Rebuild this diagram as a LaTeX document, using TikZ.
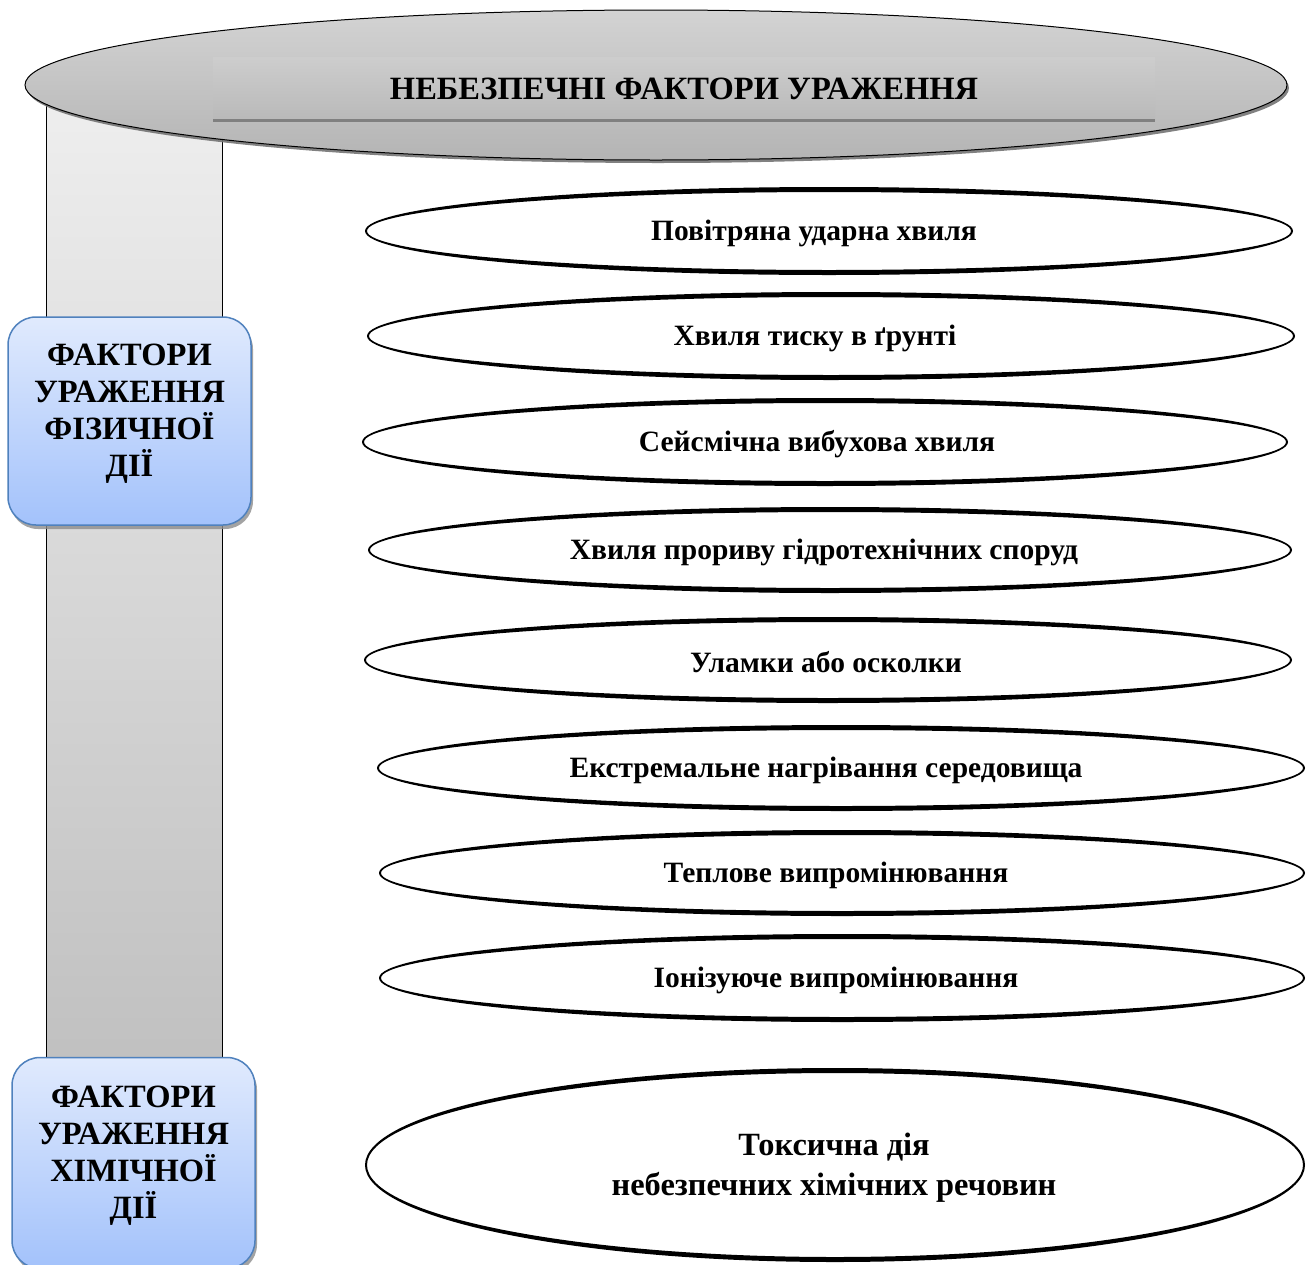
\documentclass[tikz,border=0pt]{standalone}
\usepackage{fontspec}
\setmainfont{Liberation Serif}
\usetikzlibrary{shapes.geometric,shadows}
\definecolor{headtop}{HTML}{D3D3D3}
\definecolor{headbot}{HTML}{B4B4B4}
\definecolor{titletop}{HTML}{CDCDCD}
\definecolor{titlebot}{HTML}{B9B9B9}
\definecolor{titleline}{HTML}{808080}
\definecolor{coltop}{HTML}{EEEEEE}
\definecolor{colbot}{HTML}{C0C0C0}
\definecolor{boxtop}{HTML}{E0EAFD}
\definecolor{boxbot}{HTML}{A3C2FB}
\definecolor{boxline}{HTML}{4F81BD}
\newcommand\ringell[3]{\fill[even odd rule] #1 ellipse [x radius=#2, y radius=#3] #1 ellipse [x radius=#2-2, y radius=#3-5];}
\newcommand\lowstrut{\rule[-22pt]{0pt}{22pt}}
\begin{document}
\begin{tikzpicture}[x=1pt,y=-1pt,
  itemtext/.style={font=\fontsize{29.5}{34}\selectfont\bfseries, inner sep=0pt},
  sidebox/.style={rectangle, rounded corners=28pt, draw=boxline, line width=1.5pt,
    top color=boxtop, bottom color=boxbot, minimum width=243pt, align=center,
    font=\fontsize{32.5}{37}\selectfont\bfseries,
    drop shadow={shadow xshift=2pt, shadow yshift=-4pt, fill=black!45, opacity=0.8}},
]
\useasboundingbox (0,0) rectangle (1312,1264);
% column
\node[rectangle, draw=black, line width=0.8pt, top color=coltop, bottom color=colbot,
  minimum width=176pt, minimum height=970pt, inner sep=0pt] (col) at (134,585) {};
% top ellipse
\node[ellipse, draw=black, line width=1pt, top color=headtop, bottom color=headbot,
  minimum width=1262pt, minimum height=150pt, inner sep=0pt,
  drop shadow={shadow xshift=2pt, shadow yshift=-3pt, fill=black!55, opacity=0.9}] (head) at (656,85) {};
\node[rectangle, top color=titletop, bottom color=titlebot, minimum width=942pt, minimum height=63pt,
  inner sep=0pt, font=\fontsize{32.5}{36}\selectfont\bfseries] (title) at (684,89) {НЕБЕЗПЕЧНІ ФАКТОРИ УРАЖЕННЯ};
\draw[titleline, line width=3pt] (title.south west) -- (title.south east);
% side boxes
\node[sidebox, minimum height=208pt] (phys) at (129.5,421) {ФАКТОРИ\\УРАЖЕННЯ\\ФІЗИЧНОЇ\\ДІЇ\lowstrut};
\node[sidebox, minimum height=211pt] (chem) at (133.5,1163) {ФАКТОРИ\\УРАЖЕННЯ\\ХІМІЧНОЇ\\ДІЇ\lowstrut};
% item ellipses
\ringell{(829,231)}{464}{44}
\ringell{(831,336)}{464}{44}
\ringell{(825,442)}{463}{44}
\ringell{(830,550)}{462}{43}
\ringell{(828,660)}{464}{43}
\ringell{(841,768)}{464}{43}
\ringell{(842,873)}{463}{43}
\ringell{(842,978)}{463}{44}
\ringell{(835,1165)}{470}{97}
\node[itemtext] (t1) at (814,233) {Повітряна ударна хвиля};
\node[itemtext] (t2) at (815,338) {Хвиля тиску в ґрунті};
\node[itemtext] (t3) at (817,444) {Сейсмічна вибухова хвиля};
\node[itemtext] (t4) at (824,552) {Хвиля прориву гідротехнічних споруд};
\node[itemtext] (t5) at (826,662) {Уламки або осколки};
\node[itemtext] (t6) at (826,770) {Екстремальне нагрівання середовища};
\node[itemtext] (t7) at (836,875) {Теплове випромінювання};
\node[itemtext] (t8) at (836,980) {Іонізуюче випромінювання};
\node[itemtext, font=\fontsize{32.4}{40}\selectfont\bfseries, align=center] (t9) at (834,1168) {Токсична дія\\небезпечних хімічних речовин};
\end{tikzpicture}
\end{document}
